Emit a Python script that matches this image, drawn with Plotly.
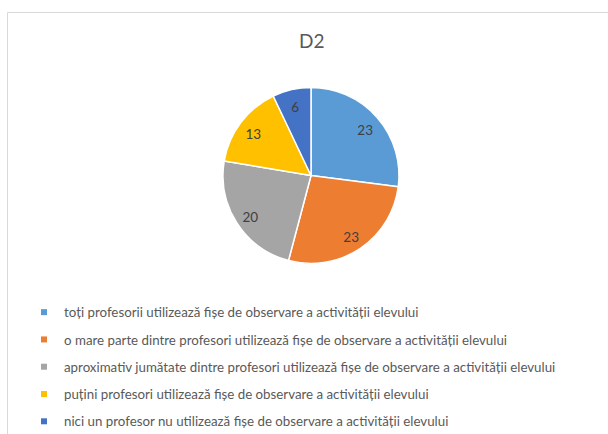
import plotly.graph_objects as go

W, H = 608, 434

labels = [
    "toți profesorii utilizează fișe de observare a activității elevului",
    "o mare parte dintre profesori utilizează fișe de observare a activității elevului",
    "aproximativ jumătate dintre profesori utilizează fișe de observare a activității elevului",
    "puțini profesori utilizează fișe de observare a activității elevului",
    "nici un profesor nu utilizează fișe de observare a activității elevului",
]
values = [23, 23, 20, 13, 6]
colors = ["#5B9BD5", "#ED7D31", "#A5A5A5", "#FFC000", "#4472C4"]
title_text = "D2"

cx, cy, r = 311, 175.5, 88


def dom(cy_):
    return dict(x=[(cx - r) / W, (cx + r) / W], y=[1 - (cy_ + r) / H, 1 - (cy_ - r) / H])


fig = go.Figure()

# solid pie with white separators
fig.add_trace(go.Pie(
    labels=labels, values=values, sort=False, direction="clockwise", rotation=0,
    marker=dict(colors=colors, line=dict(color="white", width=1.5)),
    textinfo="none", showlegend=False, hoverinfo="label+value",
    domain=dom(cy),
))
# transparent ring carrying the value labels (placed further out, like the original)
fig.add_trace(go.Pie(
    labels=labels, values=values, sort=False, direction="clockwise", rotation=0,
    hole=0.64,
    marker=dict(colors=["rgba(0,0,0,0)"] * len(values), line=dict(width=0)),
    textinfo="value", textposition="inside", insidetextorientation="horizontal",
    textfont=dict(family="Lato", size=13.5, color="#404040"),
    showlegend=False, hoverinfo="skip",
    domain=dom(cy + 2),
))

# legend entries (small square swatches)
for lab, col in zip(labels, colors):
    fig.add_trace(go.Scatter(
        x=[None], y=[None], mode="markers", name=lab, legendgroup=lab,
        marker=dict(symbol="square", size=6, color=col),
        showlegend=True, hoverinfo="skip",
    ))

fig.update_layout(
    width=W, height=H,
    margin=dict(l=0, r=0, t=0, b=0, autoexpand=False),
    paper_bgcolor="white",
    plot_bgcolor="white",
    xaxis=dict(visible=False), yaxis=dict(visible=False),
    showlegend=True,
    legend=dict(
        x=24 / W, y=1 - 297 / H, xanchor="left", yanchor="top",
        orientation="v", itemwidth=30, tracegroupgap=7,
        font=dict(family="Lato", size=13.3, color="#595959"),
        bgcolor="rgba(0,0,0,0)",
        itemclick=False, itemdoubleclick=False,
    ),
    annotations=[dict(
        text=title_text, x=cx / W, y=1 - 40 / H, xref="paper", yref="paper",
        showarrow=False, font=dict(family="Lato", size=19, color="#595959"),
        xanchor="center", yanchor="middle",
    )],
    shapes=[dict(
        type="rect", xref="paper", yref="paper",
        x0=7.5 / W, x1=1.1, y0=-0.1, y1=1 - 12.5 / H,
        line=dict(color="#D9D9D9", width=1), layer="below",
    )],
)

fig.write_html("out.html", config={"displayModeBar": False},
               post_script="document.body.style.margin='0';")
